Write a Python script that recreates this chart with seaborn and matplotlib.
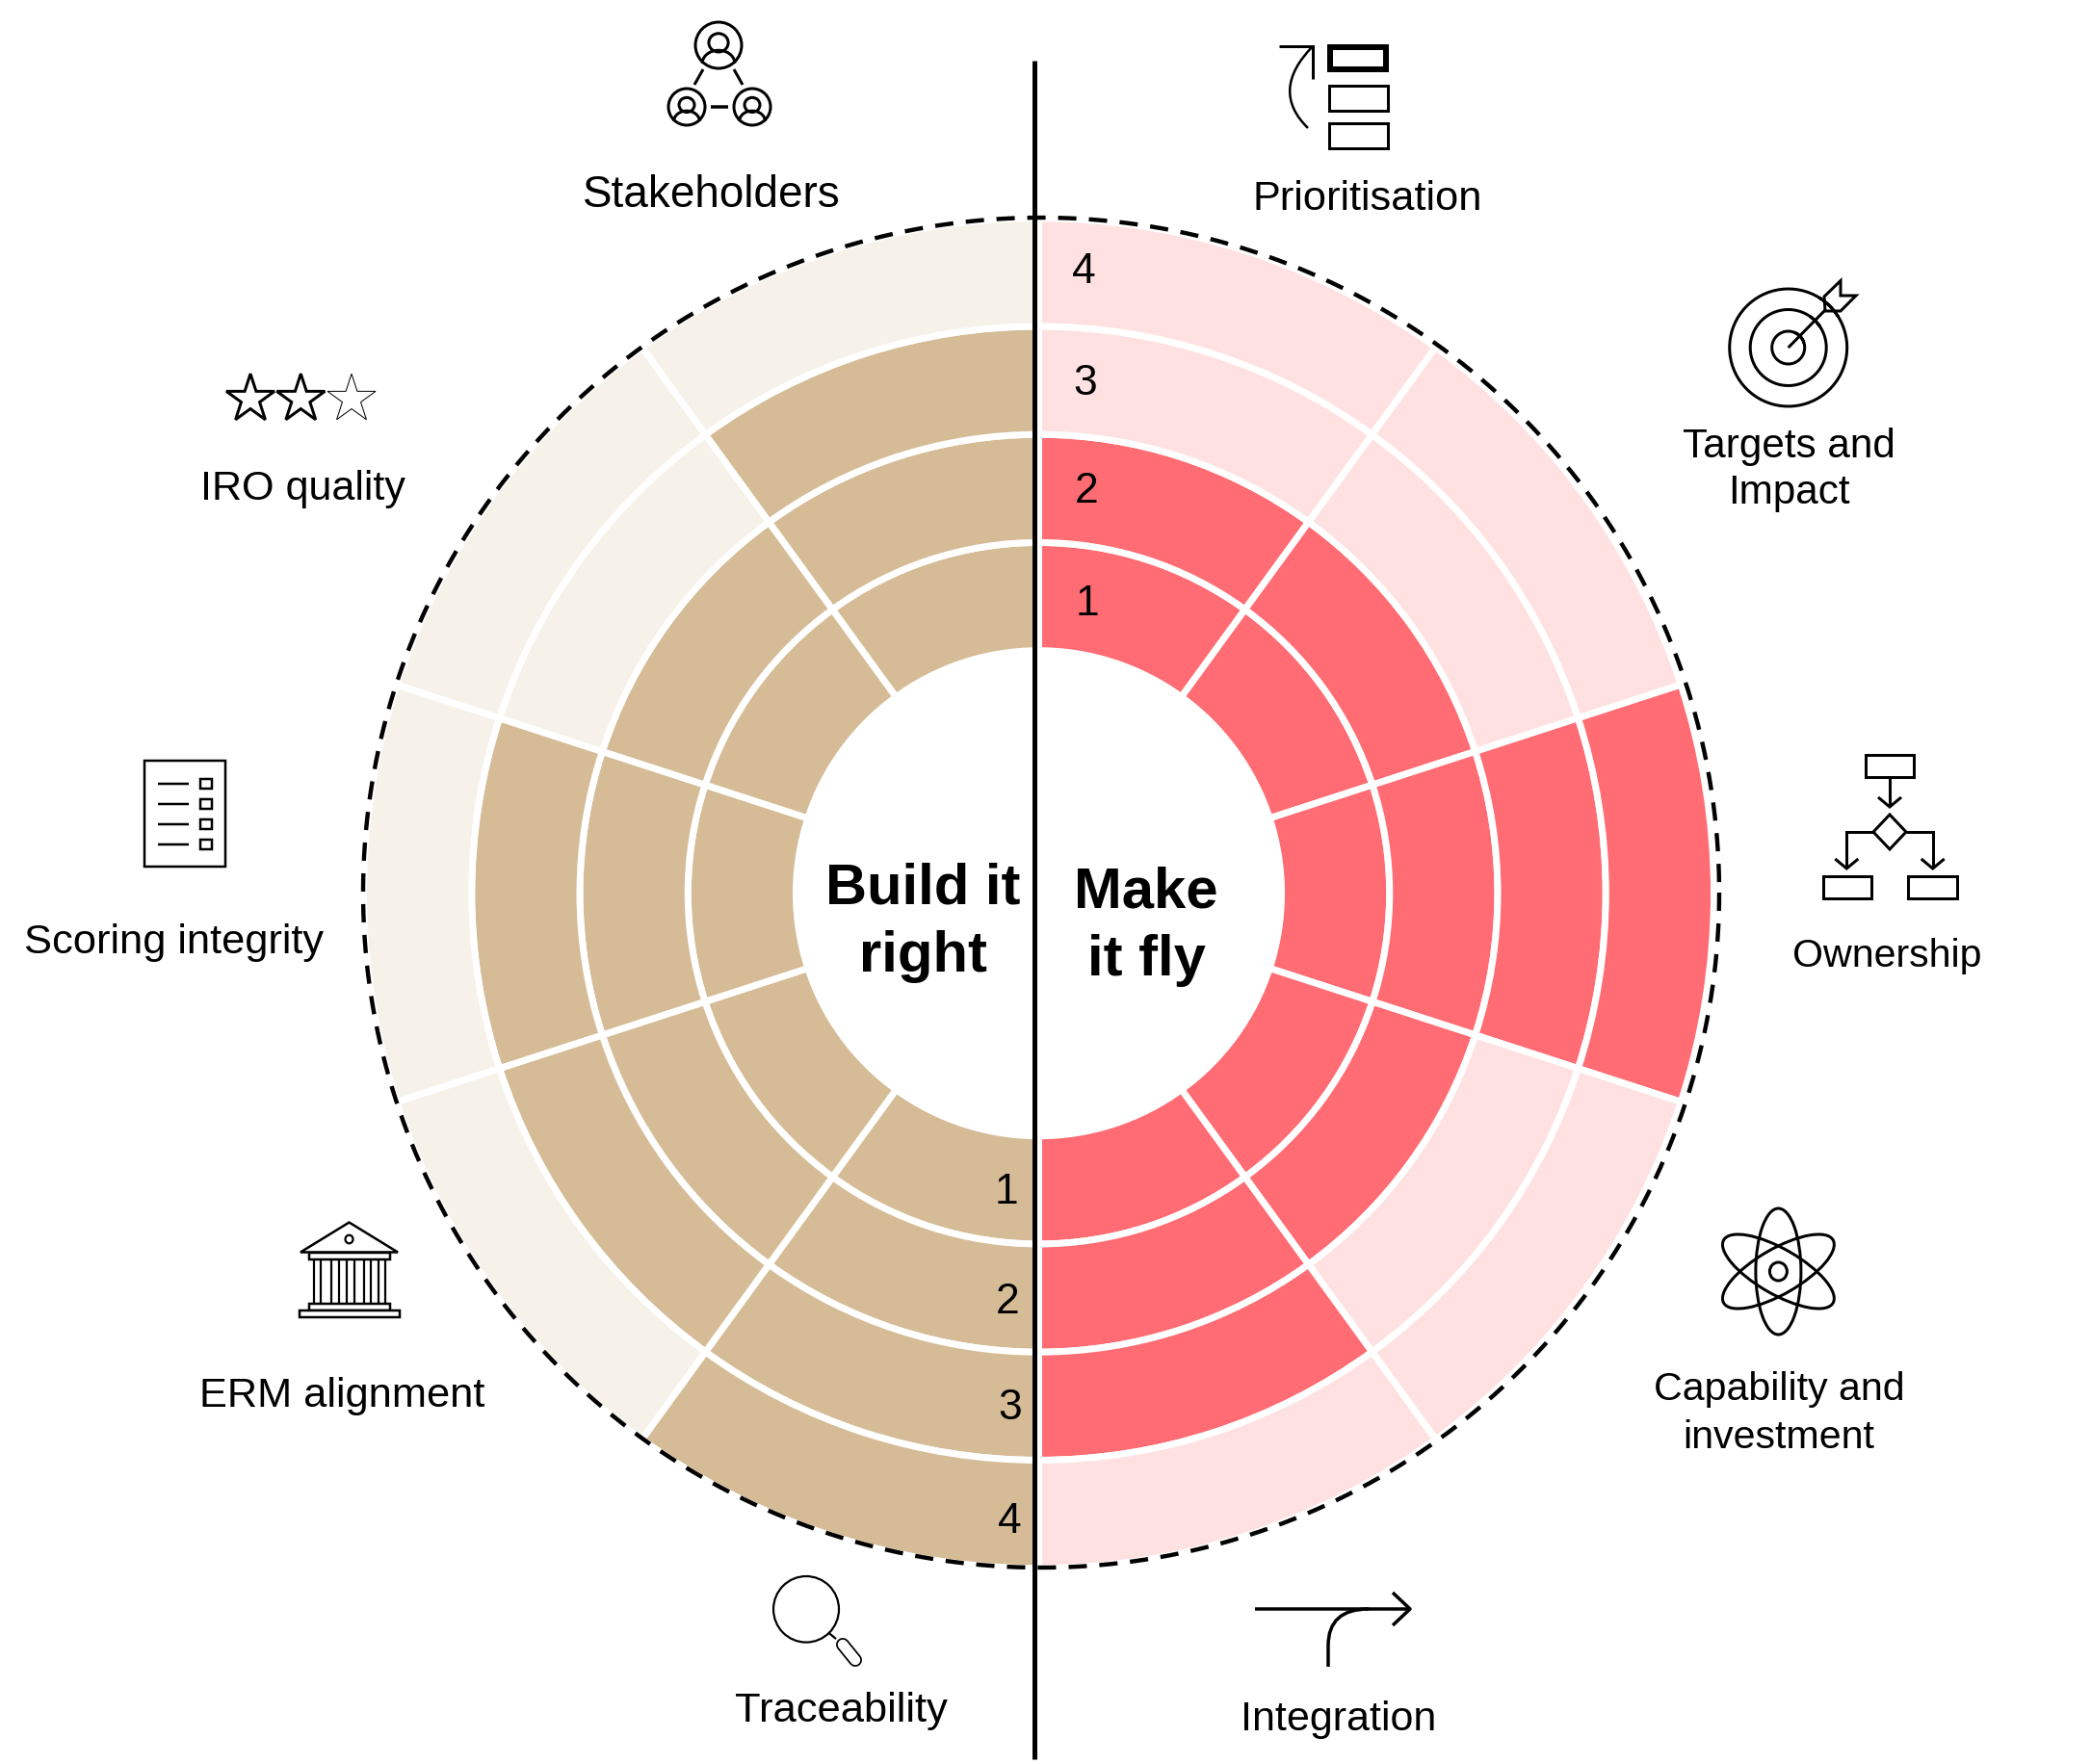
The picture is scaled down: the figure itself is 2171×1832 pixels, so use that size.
import numpy as np
import pandas as pd
import seaborn as sns
import matplotlib
matplotlib.use("Agg")
import matplotlib.pyplot as plt
from matplotlib.patches import Circle, Ellipse, Polygon, Rectangle, PathPatch
from matplotlib.path import Path

# ---------- data ----------
dimensions = ["Prioritisation", "Targets and\nImpact", "Ownership", "Capability and\ninvestment",
              "Integration", "Traceability", "ERM alignment", "Scoring integrity",
              "IRO quality", "Stakeholders"]
scores = [2, 2, 4, 2, 3, 4, 3, 3, 2, 3]
groups = ["fly", "fly", "fly", "fly", "fly", "right", "right", "right", "right", "right"]
levels = [1, 2, 3, 4]
centre_left = "Build it\nright"
centre_right = "Make\nit fly"

# ---------- style ----------
sns.set_theme(style="white")
plt.rcParams["font.family"] = ["Liberation Sans", "DejaVu Sans"]
W, H = 2171, 1833
DPI = 100
PX = 72 / DPI
tan, cream, red, pink = sns.color_palette(["#D5BC97", "#F6F2EA", "#FF6C73", "#FFE1E2"])
fill = {"right": (tan, cream), "fly": (red, pink)}

fig = plt.figure(figsize=(W / DPI, H / DPI), dpi=DPI, facecolor="white")

# ---------- polar rings ----------
CX, CY = 1078.5, 928.7
RING = 112.25
HOLE = 252 / RING
RMAX = 6.4
R = RMAX * RING
pol = fig.add_axes([(CX - R) / W, 1 - (CY + R) / H, 2 * R / W, 2 * R / H], projection="polar")
pol.set_theta_zero_location("N")
pol.set_theta_direction(-1)
pol.set_ylim(0, RMAX)
pol.set_axis_off()

table = pd.DataFrame({"dimension": dimensions, "score": scores, "group": groups})
step = 2 * np.pi / len(table)
for i, row in table.iterrows():
    for lev in levels:
        on, off = fill[row.group]
        pol.bar(step * (i + .5), 1, width=step, bottom=HOLE + lev - 1,
                color=on if lev <= row.score else off,
                edgecolor="white", linewidth=7 * PX, zorder=2)

# ---------- overlay in pixel units ----------
ov = fig.add_axes([0, 0, 1, 1], facecolor="none")
ov.set_xlim(0, W)
ov.set_ylim(H, 0)
ov.set_axis_off()
K = "black"


def line(xs, ys, lw=3, **kw):
    kw.setdefault("solid_capstyle", "butt")
    kw.setdefault("solid_joinstyle", "miter")
    ov.plot(xs, ys, color=K, lw=lw * PX, **kw)


def rect(x0, y0, x1, y1, lw=3):
    ov.add_patch(Rectangle((x0, y0), x1 - x0, y1 - y0, fc="white", ec=K, lw=lw * PX))


def ell(cx, cy, rx, ry, lw=3, angle=0, fc="none"):
    ov.add_patch(Ellipse((cx, cy), 2 * rx, 2 * ry, angle=angle, fc=fc, ec=K, lw=lw * PX))


def arc(cx, cy, r, a1, a2, lw=3):
    a = np.radians(np.linspace(a1, a2, 80))
    line(cx + r * np.cos(a), cy - r * np.sin(a), lw=lw)


def curve(points, codes, lw=3):
    ov.add_patch(PathPatch(Path(points, codes), fc="none", ec=K, lw=lw * PX))


# dashed outer circle and axis line
a = np.linspace(0, 2 * np.pi, 720)
ov.plot(1081 + 704 * np.cos(a), 928 + 701 * np.sin(a), color=K, lw=4.4 * PX,
        linestyle=(0, (19 / 4.4, 13 / 4.4)), dash_capstyle="butt")
line([1073.5, 1073.5], [64, 1828], lw=5)

# labels
label_xy = [(1420, 207), (1857, 488), (1959, 993), (1847, 1468), (1390, 1786),
            (873, 1777), (355, 1450), (181, 979), (314, 508), (739, 203)]
label_size = [31.2, 30.4, 29.6, 29.6, 31, 31.3, 31.2, 31.2, 31.1, 33]
label_gap = [1.1, 1.23, 1.1, 1.42, 1.1, 1.1, 1.1, 1.1, 1.1, 1.1]
for name, (x, y), fs, gap in zip(table.dimension, label_xy, label_size, label_gap):
    ov.text(x, y, name, ha="center", va="center", fontsize=fs, color=K, linespacing=gap)

# ring numbers
for lev, (x, y) in zip(levels, [(1128.5, 627), (1128.5, 510), (1127, 398), (1125, 282)]):
    ov.text(x, y, str(lev), ha="center", va="center", fontsize=32, color=K)
for lev, (x, y) in zip(levels, [(1045, 1238), (1046, 1353), (1049, 1463), (1048, 1581)]):
    ov.text(x, y, str(lev), ha="center", va="center", fontsize=32, color=K)

# centre titles
ov.text(958, 958, centre_left, ha="center", va="center", fontsize=43, fontweight="bold",
        color=K, linespacing=1.36)
ov.text(1190, 962, centre_right, ha="center", va="center", fontsize=43, fontweight="bold",
        color=K, linespacing=1.36)


# ---------- icons ----------
def person(cx, cy, r, lw=3):
    ell(cx, cy, r, r, lw=lw)
    ell(cx, cy - 0.11 * r, 0.42 * r, 0.4 * r, lw=lw)
    t = np.radians(np.linspace(0, 180, 50))
    line(cx + 0.7 * r * np.cos(t), cy + 0.78 * r - 0.56 * r * np.sin(t), lw=lw)


person(746, 48, 24)
person(713, 112, 19)
person(781, 112, 19)
line([730, 721], [73, 89])
line([762, 771], [73, 89])
line([738, 756], [112, 112], lw=3.5)

# prioritisation
rect(1381, 50, 1439, 73, lw=6)
rect(1379.5, 90, 1440.5, 115.5)
rect(1379.5, 129, 1440.5, 154.5)
line([1328, 1363, 1363], [49, 49, 83], lw=3)
curve([(1363, 49), (1318, 95), (1358, 134)], [Path.MOVETO, Path.CURVE3, Path.CURVE3], lw=2.5)

# target
tx, ty = 1856.7, 362
arc(tx, ty, 61, 58.6, 31.4 - 360)
arc(tx, ty, 39.5, 55.5, 33 - 360)
arc(tx, ty, 17, 68, 16 - 360)
line([tx, 1895], [ty, 323], lw=3)
ov.add_patch(Polygon([(1894, 309), (1911, 292.5), (1911, 308), (1927, 308), (1911, 324), (1895, 324)],
                     closed=True, fc="white", ec=K, lw=3 * PX))

# flowchart
rect(1937, 785, 1987, 807.5)
line([1962, 1962], [807.5, 838])
line([1950, 1962, 1974], [829, 839, 829])
ov.add_patch(Polygon([(1962, 847), (1979, 865), (1962, 883), (1945, 865)], closed=True,
                     fc="white", ec=K, lw=3 * PX))
line([1945, 1917.3, 1917.3], [865, 865, 902])
line([1979, 2006.7, 2006.7], [865, 865, 902])
line([1905.3, 1917.3, 1929.3], [893, 903, 893])
line([1994.7, 2006.7, 2018.7], [893, 903, 893])
rect(1892.5, 911, 1942.5, 933.5)
rect(1981, 911, 2032, 933.5)

# atom
ax_, ay_ = 1846.4, 1321.5
for ang in (0, 60, -60):
    ell(ax_, ay_, 23.5, 65.5, angle=ang)
ell(ax_, ay_, 9, 9.5)

# integration arrow
line([1303, 1463], [1672, 1672], lw=3.5)
line([1446, 1464, 1446], [1655, 1672, 1689], lw=3.5, solid_joinstyle="round")
curve([(1379, 1732), (1379, 1710), (1379, 1672), (1421, 1672)],
      [Path.MOVETO, Path.LINETO, Path.CURVE3, Path.CURVE3], lw=3.5)

# magnifier
ell(837, 1672.3, 34, 34.3, lw=2.2)
line([860, 868], [1696.5, 1703], lw=2.2)
ov.plot([875, 888], [1709, 1725], color=K, lw=14 * PX, solid_capstyle="round")
ov.plot([875, 888], [1709, 1725], color="white", lw=10.5 * PX, solid_capstyle="round")

# bank
ov.add_patch(Polygon([(362.5, 1270.5), (413, 1301.5), (312, 1301.5)], closed=True,
                     fc="white", ec=K, lw=2.5 * PX))
ell(362.5, 1288, 4, 4.3, lw=2.2)
rect(320.5, 1301.5, 404.5, 1309, lw=2.5)
for x in (326, 333, 344, 352, 360, 368, 378, 385, 393, 400):
    line([x, x], [1309, 1355], lw=2.2)
rect(320.5, 1355, 404.5, 1362, lw=2.5)
rect(311, 1362, 414.5, 1368.5, lw=2.5)


# stars
def star(cx, cy, r, lw):
    ang = np.radians(90 + 36 * np.arange(10))
    rad = np.where(np.arange(10) % 2 == 0, r, 0.382 * r)
    ov.add_patch(Polygon(np.c_[cx + rad * np.cos(ang), cy - rad * np.sin(ang)], closed=True,
                         fc="white", ec=K, lw=lw * PX, joinstyle="miter"))


star(365, 415.5, 26.3, 1)
star(312.3, 415.5, 26.3, 3)
star(260, 415.5, 26.3, 3)

# scoring sheet
rect(150, 791, 234, 901, lw=2.5)
for y in (815.3, 836.3, 857.3, 878.2):
    line([163.5, 196], [y, y], lw=2.5)
    rect(208, y - 5, 219.5, y + 5, lw=2.5)

fig.savefig("out.png", dpi=DPI, facecolor="white")
